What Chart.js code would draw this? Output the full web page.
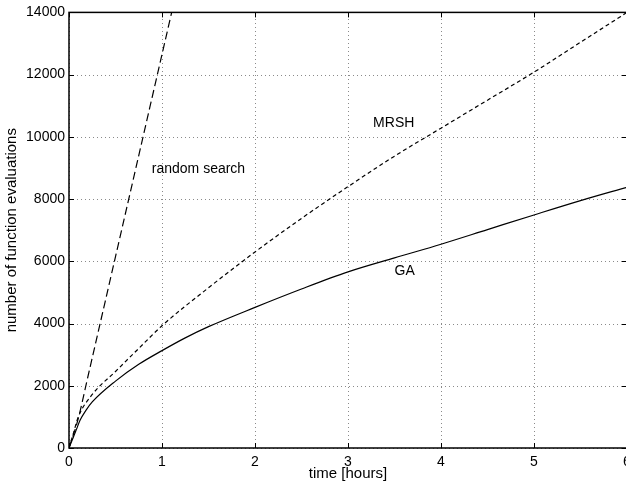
<!DOCTYPE html>
<html>
<head>
<meta charset="utf-8">
<script src="https://cdn.jsdelivr.net/npm/chart.js@4.4.0/dist/chart.umd.min.js"></script>
<style>
  html, body { margin: 0; padding: 0; background: #fff; overflow: hidden; }
  #wrap { width: 640px; height: 486px; }
</style>
</head>
<body>
<div id="wrap"><canvas id="evalChart" width="640" height="486"></canvas></div>
<script>
// time in hours, number of function evaluations
const randomTime  = [0, 0.1, 0.2, 0.4, 0.6, 0.8, 1.0, 1.104];
const randomEvals = [0, 950, 2250, 4850, 7450, 10050, 12650, 14000];

const mrshTime  = [0, 0.05, 0.1, 0.25, 0.5, 0.75, 1, 1.5, 2, 2.5, 3, 3.5, 4, 4.5, 5, 5.5, 6];
const mrshEvals = [0, 500, 1000, 1720, 2460, 3200, 3930, 5150, 6300, 7380, 8400, 9380, 10280, 11180, 12080, 13040, 14000];

const gaTime  = [0, 0.04, 0.08, 0.12, 0.18, 0.25, 0.5, 0.75, 1, 1.25, 1.5, 2, 2.5, 3, 3.5, 4, 4.5, 5, 5.5, 6];
const gaEvals = [0, 300, 600, 900, 1200, 1480, 2150, 2690, 3130, 3540, 3900, 4520, 5110, 5660, 6110, 6550, 7020, 7490, 7950, 8380];

const xTicks = [0, 1, 2, 3, 4, 5, 6];
const yTicks = [0, 2000, 4000, 6000, 8000, 10000, 12000, 14000];

// text labels placed in data coordinates
const curveLabels = [
  { text: "random search", x: 0.89, y: 8950 },
  { text: "MRSH", x: 3.27, y: 10450 },
  { text: "GA", x: 3.5, y: 5690 }
];

const FONT = "'Liberation Sans', Arial, Helvetica, sans-serif";

function toPoints(xs, ys) {
  return xs.map((x, i) => ({ x: x, y: ys[i] }));
}

// dotted grid drawn under the curves
const gridPlugin = {
  id: "dottedGrid",
  beforeDatasetsDraw(chart) {
    const ctx = chart.ctx;
    const a = chart.chartArea;
    const xs = chart.scales.x, ys = chart.scales.y;
    ctx.save();
    ctx.strokeStyle = "#8a8a8a";
    ctx.lineWidth = 1;
    ctx.setLineDash([1, 3]);
    ctx.beginPath();
    xTicks.forEach(v => {
      const px = Math.round(xs.getPixelForValue(v)) + 0.5;
      ctx.moveTo(px, a.bottom); ctx.lineTo(px, a.top);
    });
    yTicks.forEach(v => {
      const py = Math.round(ys.getPixelForValue(v)) + 0.5;
      ctx.moveTo(a.left, py); ctx.lineTo(a.right, py);
    });
    ctx.stroke();
    ctx.restore();
  }
};

// box, inward tick marks and curve labels like the original figure
const framePlugin = {
  id: "frame",
  afterDraw(chart) {
    const ctx = chart.ctx;
    const a = chart.chartArea;
    const xs = chart.scales.x, ys = chart.scales.y;
    ctx.save();
    ctx.strokeStyle = "#000";
    ctx.lineWidth = 1;
    ctx.setLineDash([]);
    ctx.beginPath();
    xTicks.forEach(v => {
      const px = Math.round(xs.getPixelForValue(v)) + 0.5;
      ctx.moveTo(px, a.bottom); ctx.lineTo(px, a.bottom - 5);
      ctx.moveTo(px, a.top); ctx.lineTo(px, a.top + 5);
    });
    yTicks.forEach(v => {
      const py = Math.round(ys.getPixelForValue(v)) + 0.5;
      ctx.moveTo(a.left, py); ctx.lineTo(a.left + 5, py);
      ctx.moveTo(a.right, py); ctx.lineTo(a.right - 5, py);
    });
    ctx.stroke();
    ctx.lineWidth = 1.5;
    ctx.strokeRect(a.left, a.top, a.right - a.left, a.bottom - a.top);

    ctx.fillStyle = "#000";
    ctx.font = "14px " + FONT;
    ctx.textAlign = "left";
    ctx.textBaseline = "middle";
    curveLabels.forEach(l => {
      ctx.fillText(l.text, xs.getPixelForValue(l.x), ys.getPixelForValue(l.y));
    });
    ctx.restore();
  }
};

const lineBase = {
  borderColor: "#000",
  borderWidth: 1.2,
  pointRadius: 0,
  cubicInterpolationMode: "monotone"
};

new Chart(document.getElementById("evalChart"), {
  type: "line",
  data: {
    datasets: [
      Object.assign({ label: "random search", data: toPoints(randomTime, randomEvals), borderDash: [8, 4] }, lineBase),
      Object.assign({ label: "MRSH", data: toPoints(mrshTime, mrshEvals), borderDash: [4, 3] }, lineBase),
      Object.assign({ label: "GA", data: toPoints(gaTime, gaEvals) }, lineBase)
    ]
  },
  options: {
    responsive: false,
    animation: false,
    events: [],
    layout: { padding: { left: 0, right: 13, top: 10, bottom: 0 } },
    plugins: { legend: { display: false }, tooltip: { enabled: false } },
    scales: {
      x: {
        type: "linear",
        min: 0,
        max: 6,
        afterFit: s => { s.height = 38; },
        afterBuildTicks: s => { s.ticks = xTicks.map(v => ({ value: v })); },
        grid: { display: false, drawTicks: false },
        border: { display: false },
        ticks: { color: "#000", font: { family: FONT, size: 14 }, padding: 6, maxRotation: 0 },
        title: { display: true, text: "time [hours]", color: "#000", font: { family: FONT, size: 15 }, padding: { top: 0, bottom: 3 } }
      },
      y: {
        type: "linear",
        min: 0,
        max: 14000,
        afterFit: s => { s.width = 69; },
        afterBuildTicks: s => { s.ticks = yTicks.map(v => ({ value: v })); },
        grid: { display: false, drawTicks: false },
        border: { display: false },
        ticks: { color: "#000", font: { family: FONT, size: 14 }, padding: 4, callback: v => String(v) },
        title: { display: true, text: "number of function evaluations", color: "#000", font: { family: FONT, size: 15 }, padding: { top: 3, bottom: 0 } }
      }
    }
  },
  plugins: [gridPlugin, framePlugin]
});
</script>
</body>
</html>
